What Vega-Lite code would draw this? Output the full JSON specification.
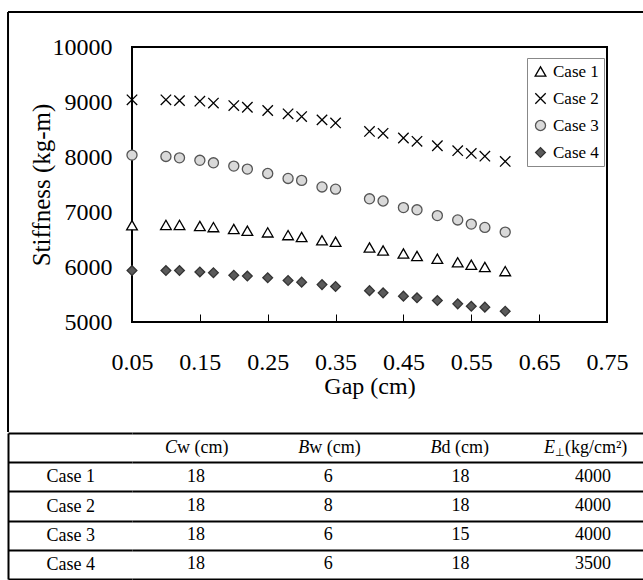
{
  "$schema": "https://vega.github.io/schema/vega-lite/v6.json",
  "padding": {"left": 6, "top": 10, "right": 0, "bottom": 0},
  "background": "white",
  "spacing": 111,
  "bounds": "flush",
  "config": {
    "font": "Liberation Serif",
    "legend": {"labelFont": "Liberation Serif", "labelFontSize": 17, "labelColor": "black", "strokeColor": "#888888", "fillColor": "white", "padding": 5, "rowPadding": 9, "labelOffset": 4, "symbolStrokeWidth": 1.3, "orient": "none", "legendX": 395, "legendY": 11}
  },
  "datasets": {
    "pts": [
      {"case": "Case 1", "gap": 0.05, "stiffness": 6760}, {"case": "Case 1", "gap": 0.10, "stiffness": 6765}, {"case": "Case 1", "gap": 0.12, "stiffness": 6765}, {"case": "Case 1", "gap": 0.15, "stiffness": 6745}, {"case": "Case 1", "gap": 0.17, "stiffness": 6725}, {"case": "Case 1", "gap": 0.20, "stiffness": 6690}, {"case": "Case 1", "gap": 0.22, "stiffness": 6660}, {"case": "Case 1", "gap": 0.25, "stiffness": 6630}, {"case": "Case 1", "gap": 0.28, "stiffness": 6580}, {"case": "Case 1", "gap": 0.30, "stiffness": 6545}, {"case": "Case 1", "gap": 0.33, "stiffness": 6485}, {"case": "Case 1", "gap": 0.35, "stiffness": 6460}, {"case": "Case 1", "gap": 0.40, "stiffness": 6355}, {"case": "Case 1", "gap": 0.42, "stiffness": 6300}, {"case": "Case 1", "gap": 0.45, "stiffness": 6245}, {"case": "Case 1", "gap": 0.47, "stiffness": 6200}, {"case": "Case 1", "gap": 0.50, "stiffness": 6150}, {"case": "Case 1", "gap": 0.53, "stiffness": 6085}, {"case": "Case 1", "gap": 0.55, "stiffness": 6040}, {"case": "Case 1", "gap": 0.57, "stiffness": 6000}, {"case": "Case 1", "gap": 0.60, "stiffness": 5925},
      {"case": "Case 2", "gap": 0.05, "stiffness": 9040}, {"case": "Case 2", "gap": 0.10, "stiffness": 9040}, {"case": "Case 2", "gap": 0.12, "stiffness": 9025}, {"case": "Case 2", "gap": 0.15, "stiffness": 9015}, {"case": "Case 2", "gap": 0.17, "stiffness": 8980}, {"case": "Case 2", "gap": 0.20, "stiffness": 8935}, {"case": "Case 2", "gap": 0.22, "stiffness": 8905}, {"case": "Case 2", "gap": 0.25, "stiffness": 8845}, {"case": "Case 2", "gap": 0.28, "stiffness": 8785}, {"case": "Case 2", "gap": 0.30, "stiffness": 8735}, {"case": "Case 2", "gap": 0.33, "stiffness": 8675}, {"case": "Case 2", "gap": 0.35, "stiffness": 8620}, {"case": "Case 2", "gap": 0.40, "stiffness": 8465}, {"case": "Case 2", "gap": 0.42, "stiffness": 8430}, {"case": "Case 2", "gap": 0.45, "stiffness": 8345}, {"case": "Case 2", "gap": 0.47, "stiffness": 8285}, {"case": "Case 2", "gap": 0.50, "stiffness": 8205}, {"case": "Case 2", "gap": 0.53, "stiffness": 8115}, {"case": "Case 2", "gap": 0.55, "stiffness": 8065}, {"case": "Case 2", "gap": 0.57, "stiffness": 8015}, {"case": "Case 2", "gap": 0.60, "stiffness": 7920},
      {"case": "Case 3", "gap": 0.05, "stiffness": 8035}, {"case": "Case 3", "gap": 0.10, "stiffness": 8010}, {"case": "Case 3", "gap": 0.12, "stiffness": 7985}, {"case": "Case 3", "gap": 0.15, "stiffness": 7940}, {"case": "Case 3", "gap": 0.17, "stiffness": 7895}, {"case": "Case 3", "gap": 0.20, "stiffness": 7835}, {"case": "Case 3", "gap": 0.22, "stiffness": 7780}, {"case": "Case 3", "gap": 0.25, "stiffness": 7700}, {"case": "Case 3", "gap": 0.28, "stiffness": 7610}, {"case": "Case 3", "gap": 0.30, "stiffness": 7575}, {"case": "Case 3", "gap": 0.33, "stiffness": 7455}, {"case": "Case 3", "gap": 0.35, "stiffness": 7415}, {"case": "Case 3", "gap": 0.40, "stiffness": 7240}, {"case": "Case 3", "gap": 0.42, "stiffness": 7200}, {"case": "Case 3", "gap": 0.45, "stiffness": 7080}, {"case": "Case 3", "gap": 0.47, "stiffness": 7040}, {"case": "Case 3", "gap": 0.50, "stiffness": 6935}, {"case": "Case 3", "gap": 0.53, "stiffness": 6855}, {"case": "Case 3", "gap": 0.55, "stiffness": 6780}, {"case": "Case 3", "gap": 0.57, "stiffness": 6720}, {"case": "Case 3", "gap": 0.60, "stiffness": 6635},
      {"case": "Case 4", "gap": 0.05, "stiffness": 5935}, {"case": "Case 4", "gap": 0.10, "stiffness": 5935}, {"case": "Case 4", "gap": 0.12, "stiffness": 5935}, {"case": "Case 4", "gap": 0.15, "stiffness": 5910}, {"case": "Case 4", "gap": 0.17, "stiffness": 5895}, {"case": "Case 4", "gap": 0.20, "stiffness": 5850}, {"case": "Case 4", "gap": 0.22, "stiffness": 5835}, {"case": "Case 4", "gap": 0.25, "stiffness": 5805}, {"case": "Case 4", "gap": 0.28, "stiffness": 5755}, {"case": "Case 4", "gap": 0.30, "stiffness": 5725}, {"case": "Case 4", "gap": 0.33, "stiffness": 5680}, {"case": "Case 4", "gap": 0.35, "stiffness": 5645}, {"case": "Case 4", "gap": 0.40, "stiffness": 5570}, {"case": "Case 4", "gap": 0.42, "stiffness": 5530}, {"case": "Case 4", "gap": 0.45, "stiffness": 5470}, {"case": "Case 4", "gap": 0.47, "stiffness": 5440}, {"case": "Case 4", "gap": 0.50, "stiffness": 5390}, {"case": "Case 4", "gap": 0.53, "stiffness": 5330}, {"case": "Case 4", "gap": 0.55, "stiffness": 5285}, {"case": "Case 4", "gap": 0.57, "stiffness": 5270}, {"case": "Case 4", "gap": 0.60, "stiffness": 5195}
    ],
    "hdr": [
      {"row": "hdr", "col": "Cw", "it": "C", "sub": "", "rest": "w (cm)"},
      {"row": "hdr", "col": "Bw", "it": "B", "sub": "", "rest": "w (cm)"},
      {"row": "hdr", "col": "Bd", "it": "B", "sub": "", "rest": "d (cm)"},
      {"row": "hdr", "col": "E", "it": "E", "sub": "⊥", "rest": "(kg/cm²)"}
    ],
    "tbl": [
      {"row": "Case 1", "col": "Cw", "txt": "18"}, {"row": "Case 1", "col": "Bw", "txt": "6"}, {"row": "Case 1", "col": "Bd", "txt": "18"}, {"row": "Case 1", "col": "E", "txt": "4000"},
      {"row": "Case 2", "col": "Cw", "txt": "18"}, {"row": "Case 2", "col": "Bw", "txt": "8"}, {"row": "Case 2", "col": "Bd", "txt": "18"}, {"row": "Case 2", "col": "E", "txt": "4000"},
      {"row": "Case 3", "col": "Cw", "txt": "18"}, {"row": "Case 3", "col": "Bw", "txt": "6"}, {"row": "Case 3", "col": "Bd", "txt": "15"}, {"row": "Case 3", "col": "E", "txt": "4000"},
      {"row": "Case 4", "col": "Cw", "txt": "18"}, {"row": "Case 4", "col": "Bw", "txt": "6"}, {"row": "Case 4", "col": "Bd", "txt": "18"}, {"row": "Case 4", "col": "E", "txt": "3500"}
    ]
  },
  "vconcat": [
    {
      "width": 475,
      "height": 275,
      "view": {"stroke": "black", "strokeWidth": 2},
      "layer": [
        {
          "data": {"name": "pts"},
          "mark": {"type": "point", "opacity": 1, "strokeWidth": 1.3},
          "encoding": {
            "x": {"field": "gap", "type": "quantitative", "scale": {"domain": [0.05, 0.75], "nice": false, "zero": false},
                  "axis": {"title": "Gap (cm)", "values": [0.05, 0.15, 0.25, 0.35, 0.45, 0.55, 0.65, 0.75], "format": ".2f", "domain": false, "grid": false, "ticks": true, "tickSize": -8, "tickColor": "black", "tickWidth": 1, "labelFont": "Liberation Serif", "titleFont": "Liberation Serif", "labelColor": "black", "titleColor": "black", "titleFontWeight": "normal", "labelFontSize": 24, "titleFontSize": 24, "labelPadding": 36, "titlePadding": 0, "labelFlush": false, "labelOverlap": false}},
            "y": {"field": "stiffness", "type": "quantitative", "scale": {"domain": [5000, 10000], "nice": false, "zero": false},
                  "axis": {"title": "Stiffness (kg-m)", "values": [5000, 6000, 7000, 8000, 9000, 10000], "format": "d", "domain": false, "grid": false, "ticks": false, "labelFont": "Liberation Serif", "titleFont": "Liberation Serif", "labelColor": "black", "titleColor": "black", "titleFontWeight": "normal", "labelFontSize": 24, "titleFontSize": 25, "labelPadding": 20, "titlePadding": -2, "labelFlush": false}},
            "shape": {"field": "case", "type": "nominal", "scale": {"domain": ["Case 1", "Case 2", "Case 3", "Case 4"], "range": ["triangle-up", "M-1,-1L1,1M-1,1L1,-1", "circle", "diamond"]}, "legend": {"title": null, "labelFont": "Liberation Serif"}},
            "fill": {"field": "case", "type": "nominal", "scale": {"domain": ["Case 1", "Case 2", "Case 3", "Case 4"], "range": ["white", "white", "#d9d9d9", "#5a5a5a"]}, "legend": {"title": null, "labelFont": "Liberation Serif"}},
            "stroke": {"field": "case", "type": "nominal", "scale": {"domain": ["Case 1", "Case 2", "Case 3", "Case 4"], "range": ["black", "black", "#555555", "#333333"]}, "legend": {"title": null, "labelFont": "Liberation Serif"}},
            "size": {"field": "case", "type": "nominal", "scale": {"domain": ["Case 1", "Case 2", "Case 3", "Case 4"], "range": [115, 95, 135, 175]}, "legend": {"title": null, "labelFont": "Liberation Serif"}}
          }
        },
        {
          "data": {"values": [{}]},
          "mark": {"type": "rule", "color": "black", "strokeWidth": 2, "clip": false},
          "encoding": {"x": {"datum": -0.1327}, "x2": {"datum": 0.8045}, "y": {"datum": 10636}}
        },
        {
          "data": {"values": [{}]},
          "mark": {"type": "rule", "color": "black", "strokeWidth": 2, "clip": false},
          "encoding": {"x": {"datum": -0.1327}, "y": {"datum": 10636}, "y2": {"datum": 3000}}
        }
      ]
    },
    {
      "width": 512,
      "height": 146,
      "view": {"stroke": null},
      "encoding": {
        "x": {"field": "col", "type": "nominal", "scale": {"type": "point", "domain": ["Cw", "Bw", "Bd", "E"], "padding": 0.435, "align": 0.556}, "axis": null},
        "y": {"field": "row", "type": "nominal", "scale": {"type": "band", "domain": ["hdr", "Case 1", "Case 2", "Case 3", "Case 4"], "paddingInner": 0, "paddingOuter": 0},
              "axis": {"title": null, "offset": 124, "domain": true, "domainColor": "black", "domainWidth": 2, "ticks": true, "tickBand": "extent", "tickSize": -124, "tickWidth": 2, "tickColor": "black", "grid": true, "gridColor": "black", "gridWidth": 2, "gridOpacity": 1, "labels": true, "labelAlign": "left", "labelPadding": 86, "labelFont": "Liberation Serif", "labelFontSize": 18, "labelColor": "black", "labelBound": false, "labelOverlap": false, "labelExpr": "datum.value == 'hdr' ? '' : datum.value"}}
      },
      "layer": [
        {
          "data": {"name": "tbl"},
          "mark": {"type": "text", "fontSize": 18, "font": "Liberation Serif", "color": "black"},
          "encoding": {"text": {"field": "txt"}}
        },
        {
          "data": {"name": "hdr"},
          "transform": [{"filter": "datum.col != 'E'"}],
          "mark": {"type": "text", "fontSize": 18, "font": "Liberation Serif", "fontStyle": "italic", "color": "black", "align": "right", "dx": -19},
          "encoding": {"text": {"field": "it"}}
        },
        {
          "data": {"name": "hdr"},
          "transform": [{"filter": "datum.col != 'E'"}],
          "mark": {"type": "text", "fontSize": 18, "font": "Liberation Serif", "color": "black", "align": "left", "dx": -19},
          "encoding": {"text": {"field": "rest"}}
        },
        {
          "data": {"name": "hdr"},
          "transform": [{"filter": "datum.col == 'E'"}],
          "mark": {"type": "text", "fontSize": 18, "font": "Liberation Serif", "fontStyle": "italic", "color": "black", "align": "right", "dx": -38},
          "encoding": {"text": {"field": "it"}}
        },
        {
          "data": {"name": "hdr"},
          "transform": [{"filter": "datum.col == 'E'"}],
          "mark": {"type": "text", "fontSize": 11, "font": "Liberation Serif", "color": "black", "align": "left", "dx": -38, "dy": 5},
          "encoding": {"text": {"field": "sub"}}
        },
        {
          "data": {"name": "hdr"},
          "transform": [{"filter": "datum.col == 'E'"}],
          "mark": {"type": "text", "fontSize": 18, "font": "Liberation Serif", "color": "black", "align": "left", "dx": -28},
          "encoding": {"text": {"field": "rest"}}
        }
      ]
    }
  ]
}
